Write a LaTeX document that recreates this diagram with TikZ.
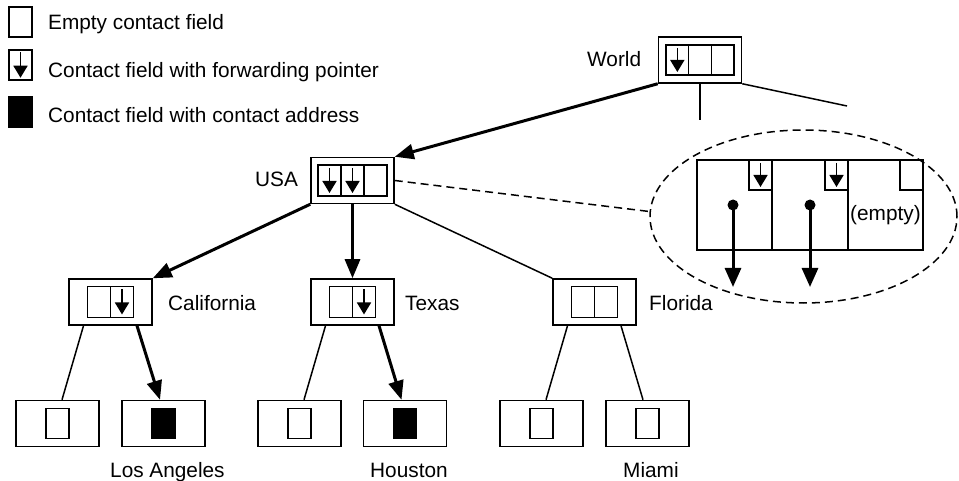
\documentclass[tikz,border=0pt]{standalone}
\usepackage{fontspec}
\setmainfont{Liberation Sans}
\usetikzlibrary{arrows.meta,calc,shapes.geometric}
\begin{document}
\begin{tikzpicture}[x=1pt,y=-1pt,
  font=\fontsize{20.8}{24}\selectfont,
  frame/.style={draw,line width=1.5pt,minimum width=83pt,minimum height=46pt,inner sep=0pt},
  fieldbox/.style={draw,line width=1.5pt,minimum width=23pt,minimum height=30pt,inner sep=0pt},
  cellline/.style={line width=1.5pt},
  thin/.style={line width=1.5pt},
  bold/.style={line width=3pt,-{Triangle[length=19pt,width=15pt]}},
  bigptr/.style={line width=3pt,-{Triangle[length=19pt,width=16pt]}},
  ptr/.style={line width=1.6pt,-{Triangle[length=12pt,width=14pt]}},
  txt/.style={inner sep=0pt,anchor=base west},
  dashline/.style={line width=1.5pt,dash pattern=on 8pt off 5pt}
]
\useasboundingbox (0,0) rectangle (959,481);

% legend
\node[fieldbox] (lg1) at (20.5,22) {};
\node[fieldbox] (lg2) at (20.5,65) {};
\draw[ptr] ($(lg2.north)+(0,3)$) -- ($(lg2.south)+(0,-3)$);
\node[fieldbox,fill=black] (lg3) at (20.5,112) {};
\node[txt] (lt1) at (48,30) {Empty contact field};
\node[txt] (lt2) at (48,78) {Contact field with forwarding pointer};
\node[txt] (lt3) at (48,123) {Contact field with contact address};

% directory nodes
\node[frame] (world) at (700,60) {};
\draw[cellline,shift={(world.center)}] (-34,-15) rectangle (34,15)
  (-11.33,-15) -- (-11.33,15) (11.33,-15) -- (11.33,15);
\draw[ptr,shift={(world.center)}] (-22.67,-12) -- (-22.67,12);
\node[txt] (lworld) at (587,67) {World};

\node[frame] (usa) at (352.5,180.5) {};
\draw[cellline,shift={(usa.center)}] (-34.5,-15.5) rectangle (34.5,15.5)
  (-11.5,-15.5) -- (-11.5,15.5) (11.5,-15.5) -- (11.5,15.5);
\draw[ptr,shift={(usa.center)}] (-23,-12.5) -- (-23,12.5);
\draw[ptr,shift={(usa.center)}] (0,-12.5) -- (0,12.5);
\node[txt] (lusa) at (255,187) {USA};

\foreach \n/\x in {california/110.5,texas/352.5,florida/594.5}{
  \node[frame] (\n) at (\x,302) {};
  \draw[cellline,shift={(\n.center)}] (-23,-15.5) rectangle (23,15.5) (0,-15.5) -- (0,15.5);
}
\draw[ptr,shift={(california.center)}] (11.5,-12.5) -- (11.5,12.5);
\draw[ptr,shift={(texas.center)}] (11.5,-12.5) -- (11.5,12.5);
\node[txt] (lcal) at (168,311) {California};
\node[txt] (ltex) at (405,311) {Texas};
\node[txt] (lflo) at (649,311) {Florida};

% leaf nodes
\foreach \n/\x/\f in {la1/57.5/white,la2/163.5/black,tx1/299.5/white,tx2/405/black,fl1/541.5/white,fl2/647.5/white}{
  \node[frame] (\n) at (\x,423.5) {};
  \draw[cellline,fill=\f,shift={(\n.center)}] (-11.5,-15) rectangle (11.5,15);
}
\node[txt] (lla) at (110,477) {Los Angeles};
\node[txt] (lhou) at (370,477) {Houston};
\node[txt] (lmia) at (623,477) {Miami};

% tree edges
\coordinate (wdown) at (700,120);
\coordinate (wright) at (847,106);
\draw[bold] (world.south west) -- (usa.north east);
\draw[thin] (world.south) -- (wdown);
\draw[thin] (world.south east) -- (wright);
\draw[bold] (usa.south west) -- (california.north east);
\draw[bold] (usa.south) -- (texas.north);
\draw[thin] (usa.south east) -- (florida.north west);

\draw[thin] ($(california.south)+(-27,0)$) -- ($(la1.north)+(4.5,0)$);
\draw[bold] ($(california.south)+(26.5,0)$) -- ($(la2.north)+(-3.5,0)$);
\draw[thin] ($(texas.south)+(-27,0)$) -- ($(tx1.north)+(4.5,0)$);
\draw[bold] ($(texas.south)+(26.5,0)$) -- ($(tx2.north)+(-3.5,0)$);
\draw[thin] ($(florida.south)+(-27,0)$) -- ($(fl1.north)+(4.5,0)$);
\draw[thin] ($(florida.south)+(26.5,0)$) -- ($(fl2.north)+(-4.5,0)$);

% magnified view of the USA record
\node[ellipse,draw,dashline,minimum width=307pt,minimum height=173pt,inner sep=0pt] (detail) at (803.5,216.5) {};
\draw[dashline] (usa.east) -- ($(detail.west)+(0,-5)$);

\node[draw,line width=1.5pt,minimum width=226pt,minimum height=90pt,inner sep=0pt] (rec) at (810,205) {};
\draw[cellline] (772,160) -- (772,250) (848,160) -- (848,250);
\draw[cellline] (749,160) rectangle (772,190) (825,160) rectangle (848,190) (900,160) rectangle (923,190);
\draw[ptr] (760.5,163) -- (760.5,187);
\draw[ptr] (836.5,163) -- (836.5,187);
\coordinate (d1) at (733,205);
\coordinate (d2) at (810,205);
\coordinate (e1) at (733,287);
\coordinate (e2) at (810,287);
\fill (d1) circle (5.5pt);
\fill (d2) circle (5.5pt);
\draw[bigptr] (d1) -- (e1);
\draw[bigptr] (d2) -- (e2);
\node[txt] (lempty) at (850,221) {(empty)};
\end{tikzpicture}
\end{document}
